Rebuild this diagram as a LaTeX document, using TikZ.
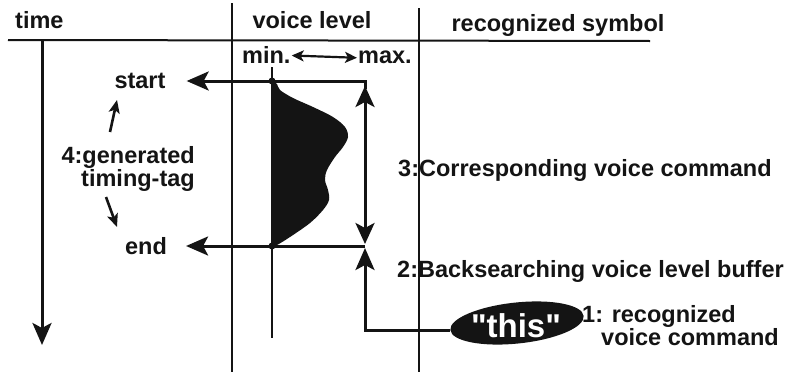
\documentclass[tikz,border=0pt]{standalone}
\usepackage{fontspec}
\setmainfont{Liberation Sans}
\newfontfamily\thisfont[Ligatures=TeXOff]{Liberation Sans}
\usetikzlibrary{arrows.meta,shapes.geometric}
\definecolor{ink}{HTML}{141414}
\begin{document}
\begin{tikzpicture}[x=1pt,y=-1pt,
  lbl/.style={font=\bfseries\fontsize{23.5}{23}\selectfont, inner sep=0pt, text=ink},
  rulel/.style={line width=2pt, draw=ink},
  big/.style={line width=3pt, draw=ink, -{Stealth[length=22pt,width=19pt,inset=5pt]}},
  bigdbl/.style={line width=3pt, draw=ink, {Stealth[length=21pt,width=19pt,inset=5pt]}-{Stealth[length=21pt,width=19pt,inset=5pt]}},
  small/.style={line width=2.6pt, draw=ink, -{Stealth[length=13pt,width=11pt,inset=3pt]}},
  tiny/.style={line width=2.2pt, draw=ink, {Stealth[length=12pt,width=11pt,inset=3pt]}-{Stealth[length=12pt,width=11pt,inset=3pt]}},
  dotn/.style={circle, fill=ink, inner sep=0pt, minimum size=7pt},
]
\useasboundingbox (0,0) rectangle (796,375);
\fill[white] (0,0) rectangle (796,375);

% grid
\coordinate (hl) at (8,40);
\coordinate (hr) at (650,41);
\coordinate (v1t) at (232,3);
\coordinate (v1b) at (232,372);
\coordinate (v2t) at (419,8);
\coordinate (v2b) at (419,372);
\draw[rulel] (hl) -- (hr);
\draw[rulel] (v1t) -- (v1b);
\draw[rulel] (v2t) -- (v2b);

% headers
\node[lbl, anchor=base west] (time) at (15,28) {time};
\node[lbl, anchor=base] (vlevel) at (312,28) {voice level};
\node[lbl, anchor=base] (recsym) at (558,31) {recognized symbol};

% time axis
\coordinate (tat) at (42,40);
\coordinate (tab) at (42,345);
\draw[big] (tat) -- (tab);

% min / max
\node[lbl, anchor=base west, inner sep=1pt] (min) at (241,63) {min.};
\node[lbl, anchor=base west, inner sep=1pt] (max) at (357,63) {max.};
\draw[tiny] ([yshift=-1pt]min.east) -- ([yshift=-1pt]max.west);

% waveform
\coordinate (cs) at (272,81);
\coordinate (ce) at (272,246);
\coordinate (mint) at (272,67);
\coordinate (minb) at (272,338);
\draw[line width=2pt, draw=ink] (mint) -- (minb);
\fill[ink] (272,81) -- plot[smooth, tension=0.55] coordinates {(272,81) (277,84) (280,90) (293,98) (313,107) (333,117) (345,127) (348,137) (343,147) (335,157) (327,170) (325,180) (328,190) (329,200) (323,210) (310,223) (290,237) (277,245) (272,246)} -- cycle;
\node[dotn] (dots) at (cs) {};
\node[dotn] (dote) at (ce) {};

% start / end
\node[lbl] (start) at (140,81) {start};
\node[lbl] (end) at (146,246) {end};
\coordinate (rs) at (365,81);
\coordinate (re) at (365,246);
\draw[big, shorten >=21pt] (rs) -- (start.east);
\draw[big, shorten >=19pt] (re) -- (end.east);
\draw[line width=3pt, draw=ink] (dots) -- (rs) -- ++(0,8);

% vertical double arrow
\coordinate (vt) at (365,86);
\coordinate (vb) at (365,244);
\draw[bigdbl] (vt) -- (vb);

% timing tag
\node[lbl, align=right, anchor=north east, font=\bfseries\fontsize{23.5}{22}\selectfont] (tag) at (195,146) {4:generated\\timing-tag};
\coordinate (ta1) at (110,132);
\coordinate (ta2) at (117,100);
\coordinate (tb1) at (106,197);
\coordinate (tb2) at (117,227);
\draw[small] (ta1) -- (ta2);
\draw[small] (tb1) -- (tb2);

% labels
\node[lbl, anchor=base west] (l3) at (398,176) {3:Corresponding voice command};
\node[lbl, anchor=base west] (l2) at (397,277) {2:Backsearching voice level buffer};
\node[lbl, anchor=north west, align=left, font=\bfseries\fontsize{23.5}{23}\selectfont] (l1) at (582,305) {1: recognized\\\hspace*{19pt}voice command};

% "this"
\node[ellipse, fill=ink, minimum width=134pt, minimum height=41pt, rotate=6, inner sep=0pt] (thisell) at (517,323) {};
\node[text=white, font=\thisfont\bfseries\fontsize{33}{36}\selectfont, inner sep=0pt, anchor=base] (thistxt) at (516,337) {"this"};
\coordinate (up) at (365,248);
\draw[big] (thisell.west) -| (up);
\end{tikzpicture}
\end{document}
